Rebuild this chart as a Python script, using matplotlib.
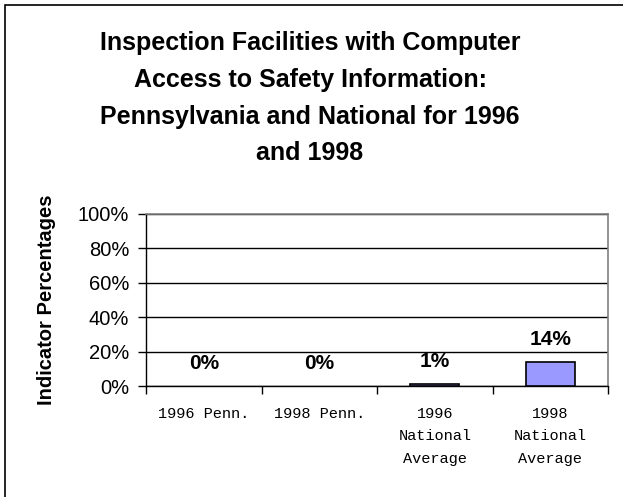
import matplotlib.pyplot as plt
import matplotlib.patches as mpatches
import numpy as np

# chart data
categories = ['1996 Penn.', '1998 Penn.', '1996\nNational\nAverage', '1998\nNational\nAverage']
values = [0, 0, 1, 14]
value_labels = ['0%', '0%', '1%', '14%']
yticks = [0, 20, 40, 60, 80, 100]
title_lines = ['Inspection Facilities with Computer',
               'Access to Safety Information:',
               'Pennsylvania and National for 1996',
               'and 1998']

W, H = 623, 497
fig = plt.figure(figsize=(W / 100, H / 100), dpi=100)
fig.patch.set_facecolor('white')

# outer frame (only left/top visible in the original)
fig.patches.append(mpatches.Rectangle((5 / W, -0.1), 1.2, 1 - 5 / H + 0.1,
                                      transform=fig.transFigure, fill=False,
                                      edgecolor='black', linewidth=1.2))

ax = fig.add_axes([146 / W, 1 - 386 / H, (608 - 146) / W, (386 - 214) / H])

x = np.arange(len(categories))
# zero-height bars draw nothing in the original
lws = [1.2 if v > 0 else 0 for v in values]
ax.bar(x, values, width=0.42, color='#9999FF', edgecolor='black', linewidth=lws, zorder=3)

ax.set_xlim(-0.5, len(categories) - 0.5)
ax.set_ylim(0, 100)
ax.set_yticks(yticks)
ax.set_yticklabels([f'{v}%' for v in yticks], fontsize=14.5, family='Liberation Sans')
ax.yaxis.grid(True, color='black', linewidth=1)
ax.set_axisbelow(True)

ax.set_xticks(x)
ax.set_xticklabels(categories, fontsize=11, family='Liberation Mono', linespacing=1.78, va='top')
ax.tick_params(axis='x', which='major', length=0, pad=15)
ax.set_xticks(np.arange(len(categories) + 1) - 0.5, minor=True)
ax.tick_params(axis='x', which='minor', length=6, direction='out', width=1, color='black')
ax.tick_params(axis='y', length=6, direction='out', width=1, pad=6)

for s in ['top', 'right']:
    ax.spines[s].set_color('#808080')
    ax.spines[s].set_linewidth(1.2)
for s in ['left', 'bottom']:
    ax.spines[s].set_color('black')
    ax.spines[s].set_linewidth(1)

for xi, v, lab in zip(x, values, value_labels):
    ax.annotate(lab, (xi, v), xytext=(0, 13), textcoords='offset pixels',
                ha='center', va='bottom', fontsize=15, fontweight='bold',
                family='Liberation Sans')

ax.set_ylabel('Indicator Percentages', fontsize=14.5, fontweight='bold',
              family='Liberation Sans', labelpad=16)

title_y = [43, 80, 117, 153]
for line, ty in zip(title_lines, title_y):
    fig.text(310 / W, 1 - ty / H, line, ha='center', va='center',
             fontsize=18, fontweight='bold', family='Liberation Sans')

fig.savefig('out.png', dpi=100)
